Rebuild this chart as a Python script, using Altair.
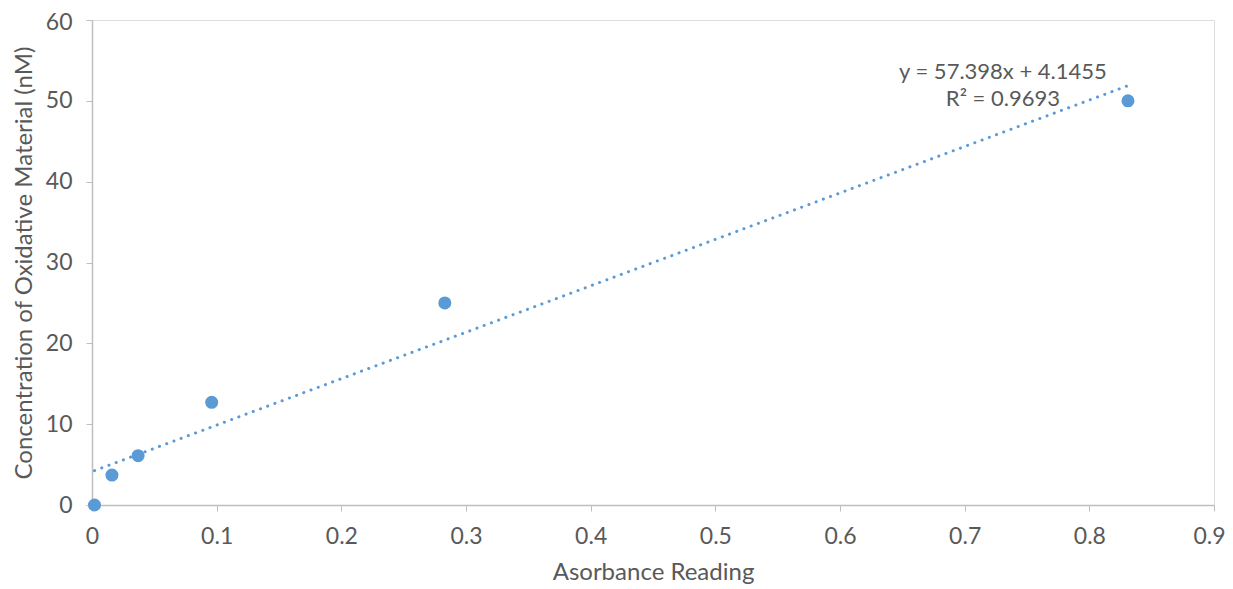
import altair as alt
import pandas as pd

absorbance = [0.002, 0.016, 0.037, 0.096, 0.283, 0.831]
concentration = [0.0, 3.7, 6.1, 12.7, 25.0, 50.0]

label_x = [0.7307, 0.7307]
label_y = [53.6, 50.2]
label_text = ["y = 57.398x + 4.1455", "R² = 0.9693"]

df = pd.DataFrame({"x": absorbance, "y": concentration})
lab = pd.DataFrame({"x": label_x, "y": label_y, "t": label_text})

FONT = "Lato"
BLUE = "#5B9BD5"
TXT = "#595959"
FS = 24
LFS = 23

xs = alt.Scale(domain=[0, 0.9], nice=False, zero=True)
ys = alt.Scale(domain=[0, 60], nice=False)

xax = alt.Axis(values=[0, 0.1, 0.2, 0.3, 0.4, 0.5, 0.6, 0.7, 0.8, 0.9], format="~g",
               grid=False, domainColor="#BFBFBF", tickColor="#BFBFBF", tickSize=6,
               labelFlush=False, labelOverlap=False,
               labelOffset=alt.ExprRef(expr="datum.value >= 0.89 ? -5 : 0"),
               labelColor=TXT, labelFontSize=LFS, labelFont=FONT, labelPadding=14,
               titleColor=TXT, titleFontSize=FS, titleFont=FONT, titleFontWeight="normal",
               titlePadding=12, domainWidth=1.5)
yax = alt.Axis(values=[0, 10, 20, 30, 40, 50, 60], grid=False,
               domainColor="#BFBFBF", tickColor="#BFBFBF", tickSize=6,
               labelFlush=False, labelOverlap=False,
               labelOffset=alt.ExprRef(expr="datum.value >= 59 ? 2 : 0"),
               labelColor=TXT, labelFontSize=LFS, labelFont=FONT, labelPadding=14,
               titleColor=TXT, titleFontSize=FS, titleFont=FONT, titleFontWeight="normal",
               titlePadding=9, domainWidth=1.5)

points = alt.Chart(df).mark_circle(size=170, color=BLUE, opacity=1).encode(
    x=alt.X("x:Q", scale=xs, axis=xax, title="Asorbance Reading"),
    y=alt.Y("y:Q", scale=ys, axis=yax, title="Concentration of Oxidative Material (nM)"),
)

trend = alt.Chart(df).transform_regression("x", "y").mark_line(
    color=BLUE, strokeWidth=3, strokeDash=[0.1, 7.6], strokeCap="round"
).encode(x=alt.X("x:Q", scale=xs), y=alt.Y("y:Q", scale=ys))

texts = alt.Chart(lab).mark_text(font=FONT, fontSize=22, color=TXT, align="center",
                                 baseline="middle").encode(
    x=alt.X("x:Q", scale=xs), y=alt.Y("y:Q", scale=ys), text="t:N")

chart = alt.layer(trend, points, texts).properties(
    width=1122, height=485,
    autosize=alt.AutoSizeParams(type="none"),
    padding={"left": 84, "top": 12, "right": 11, "bottom": 84},
).configure_view(stroke=None).configure(background="white")

chart.save("out.html", embed_options={"renderer": "svg", "actions": False})
